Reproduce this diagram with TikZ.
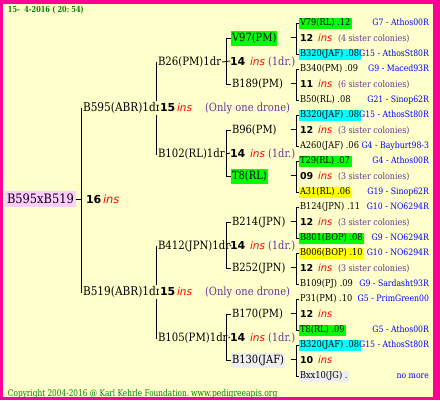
\documentclass[tikz,border=0pt]{standalone}
\usepackage{fontspec}
\setmainfont{DejaVu Serif}
\newfontfamily\sansf{DejaVu Sans}
\newfontfamily\narrowserif[FakeStretch=0.8]{DejaVu Serif}
\newfontfamily\lserif[FakeStretch=0.88]{DejaVu Serif}
\usetikzlibrary{backgrounds}
\definecolor{bg}{RGB}{255,255,204}
\definecolor{framec}{RGB}{255,0,150}
\definecolor{hlgreen}{RGB}{0,255,0}
\definecolor{hlcyan}{RGB}{0,255,255}
\definecolor{hlyellow}{RGB}{255,255,0}
\definecolor{hlgrey}{RGB}{238,238,238}
\definecolor{hlpink}{RGB}{255,204,255}
\definecolor{gblue}{RGB}{0,0,255}
\definecolor{purp}{RGB}{102,51,153}
\definecolor{insred}{RGB}{255,0,0}
\definecolor{cgreen}{RGB}{0,128,0}
\newcommand\myfs[1]{\fontsize{#1}{#1}\selectfont}
\tikzset{
  every node/.style={inner sep=0pt, outer sep=0pt, anchor=base west},
  conn/.style={draw=black, line width=0.8pt},
  lthree/.style={font=\lserif\myfs{9.4}, inner xsep=1.5pt, inner ysep=1pt, text height=7pt, text depth=2pt},
  gthree/.style={anchor=base east, text=gblue, font=\lserif\myfs{8.8}},
  nthree/.style={font=\sansf\bfseries\myfs{9.5}},
  ithree/.style={text=insred, font=\sansf\itshape\myfs{10}},
  sthree/.style={text=purp, font=\lserif\myfs{9}},
  ltwoc/.style={font=\lserif\myfs{11.3}, inner xsep=1pt, inner ysep=1.5pt, text height=9pt, text depth=3pt},
  ltwop/.style={font=\lserif\myfs{11.5}, inner xsep=1pt, inner ysep=1pt, text height=9pt, text depth=3pt},
  lone/.style={font=\lserif\myfs{12}, fill=bg, inner xsep=1pt, inner ysep=1pt, text height=9pt, text depth=3pt},
  numbig/.style={font=\sansf\bfseries\myfs{11}},
  insbig/.style={text=insred, font=\sansf\itshape\myfs{10.5}},
  scomment/.style={text=purp, font=\lserif\myfs{11.3}},
  rootst/.style={font=\lserif\myfs{13}, fill=hlpink, inner xsep=2pt, inner ysep=1pt, text height=11pt, text depth=3pt},
  greentext/.style={text=cgreen, font=\narrowserif\myfs{9.2}}
}
\begin{document}
\begin{tikzpicture}[x=1pt,y=-1pt]
\useasboundingbox (0,0) rectangle (440,400);

\coordinate (v0) at (81,0);
\coordinate (v1) at (156,0);
\coordinate (v2) at (226,0);
\coordinate (v3) at (296,0);

% date and copyright
\node[greentext, font=\narrowserif\bfseries\myfs{8.2}] (date) at (8,12) {15-~~4-2016 (~20:~54)};
\node[greentext] (copy) at (8,396) {Copyright 2004-2016 @ Karl Kehrle Foundation.};
\node[greentext, font=\narrowserif\myfs{9.5}] (web) at (191,396) {www.pedigreeapis.org};

% root
\node[rootst] (r) at (5,203) {B595xB519};
\node[numbig] (rn) at (86,203) {16};
\node[insbig, font=\sansf\itshape\myfs{11.5}] (ri) at (103,203) {ins};

% level 1
\node[lone] (d1) at (82,111) {B595(ABR)1dr};
\node[numbig, fill=bg, inner xsep=1pt] (d1n) at (159,111) {15};
\node[insbig] (d1i) at (177,111) {ins};
\node[scomment] (d1s) at (205,111) {(Only one drone)};
\node[lone] (d2) at (82,295) {B519(ABR)1dr};
\node[numbig, fill=bg, inner xsep=1pt] (d2n) at (159,295) {15};
\node[insbig] (d2i) at (177,295) {ins};
\node[scomment] (d2s) at (205,295) {(Only one drone)};

% level 2 parents
\node[ltwop] (c1) at (157,65) {B26(PM)1dr};
\node[numbig] (c1n) at (230,65) {14};
\node[insbig] (c1i) at (250,65) {ins};
\node[scomment] (c1s) at (268,65) {(1dr.)};
\node[ltwop] (c2) at (157,157) {B102(RL)1dr};
\node[numbig] (c2n) at (230,157) {14};
\node[insbig] (c2i) at (250,157) {ins};
\node[scomment] (c2s) at (268,157) {(1dr.)};
\node[ltwop] (c3) at (157,249) {B412(JPN)1dr};
\node[numbig] (c3n) at (230,249) {14};
\node[insbig] (c3i) at (250,249) {ins};
\node[scomment] (c3s) at (268,249) {(1dr.)};
\node[ltwop] (c4) at (157,341) {B105(PM)1dr};
\node[numbig] (c4n) at (230,341) {14};
\node[insbig] (c4i) at (250,341) {ins};
\node[scomment] (c4s) at (268,341) {(1dr.)};

% level 2 children
\node[ltwoc, fill=hlgreen] (b1) at (231,41.8) {V97(PM)};
\node[ltwoc] (b2) at (231,87.8) {B189(PM)};
\node[ltwoc] (b3) at (231,133.8) {B96(PM)};
\node[ltwoc, fill=hlgreen] (b4) at (231,179.8) {T8(RL)};
\node[ltwoc] (b5) at (231,225.8) {B214(JPN)};
\node[ltwoc] (b6) at (231,271.8) {B252(JPN)};
\node[ltwoc] (b7) at (231,317.8) {B170(PM)};
\node[ltwoc, fill=hlgrey] (b8) at (231,363.8) {B130(JAF)};

% level 3 groups
% group 1
\node[lthree, fill=hlgreen] (a1t) at (298.5,25.9) {V79(RL) .12};
\node[gthree] (a1tg) at (429,25.9) {G7 - Athos00R};
\node[nthree] (a1n) at (300,41.2) {12};
\node[ithree] (a1i) at (318,41.2) {ins};
\node[sthree] (a1s) at (338,41.2) {(4 sister colonies)};
\node[lthree, fill=hlcyan] (a1b) at (298.5,56.6) {B320(JAF) .08};
\node[gthree] (a1bg) at (429,56.6) {G15 - AthosSt80R};
% group 2
\node[lthree] (a2t) at (298.5,71.9) {B340(PM) .09};
\node[gthree] (a2tg) at (429,71.9) {G9 - Maced93R};
\node[nthree] (a2n) at (300,87.2) {11};
\node[ithree] (a2i) at (318,87.2) {ins};
\node[sthree] (a2s) at (338,87.2) {(6 sister colonies)};
\node[lthree] (a2b) at (298.5,102.6) {B50(RL) .08};
\node[gthree] (a2bg) at (429,102.6) {G21 - Sinop62R};
% group 3
\node[lthree, fill=hlcyan] (a3t) at (298.5,117.9) {B320(JAF) .08};
\node[gthree] (a3tg) at (429,117.9) {G15 - AthosSt80R};
\node[nthree] (a3n) at (300,133.2) {12};
\node[ithree] (a3i) at (318,133.2) {ins};
\node[sthree] (a3s) at (338,133.2) {(3 sister colonies)};
\node[lthree] (a3b) at (298.5,148.5) {A260(JAF) .06};
\node[gthree] (a3bg) at (429,148.5) {G4 - Bayburt98-3};
% group 4
\node[lthree, fill=hlgreen] (a4t) at (298.5,163.9) {T29(RL) .07};
\node[gthree] (a4tg) at (429,163.9) {G4 - Athos00R};
\node[nthree] (a4n) at (300,179.2) {09};
\node[ithree] (a4i) at (318,179.2) {ins};
\node[sthree] (a4s) at (338,179.2) {(3 sister colonies)};
\node[lthree, fill=hlyellow] (a4b) at (298.5,194.5) {A31(RL) .06};
\node[gthree] (a4bg) at (429,194.5) {G19 - Sinop62R};
% group 5
\node[lthree] (a5t) at (298.5,209.9) {B124(JPN) .11};
\node[gthree] (a5tg) at (429,209.9) {G10 - NO6294R};
\node[nthree] (a5n) at (300,225.2) {12};
\node[ithree] (a5i) at (318,225.2) {ins};
\node[sthree] (a5s) at (338,225.2) {(3 sister colonies)};
\node[lthree, fill=hlgreen] (a5b) at (298.5,240.5) {B801(BOP) .08};
\node[gthree] (a5bg) at (429,240.5) {G9 - NO6294R};
% group 6
\node[lthree, fill=hlyellow] (a6t) at (298.5,255.9) {B006(BOP) .10};
\node[gthree] (a6tg) at (429,255.9) {G10 - NO6294R};
\node[nthree] (a6n) at (300,271.2) {12};
\node[ithree] (a6i) at (318,271.2) {ins};
\node[sthree] (a6s) at (338,271.2) {(3 sister colonies)};
\node[lthree] (a6b) at (298.5,286.5) {B109(PJ) .09};
\node[gthree] (a6bg) at (429,286.5) {G9 - Sardasht93R};
% group 7
\node[lthree] (a7t) at (298.5,301.9) {P31(PM) .10};
\node[gthree] (a7tg) at (429,301.9) {G5 - PrimGreen00};
\node[nthree] (a7n) at (300,317.2) {12};
\node[ithree] (a7i) at (318,317.2) {ins};
\node[lthree, fill=hlgreen] (a7b) at (298.5,332.5) {T8(RL) .09};
\node[gthree] (a7bg) at (429,332.5) {G5 - Athos00R};
% group 8
\node[lthree, fill=hlcyan] (a8t) at (298.5,347.9) {B320(JAF) .08};
\node[gthree] (a8tg) at (429,347.9) {G15 - AthosSt80R};
\node[nthree] (a8n) at (300,363.2) {10};
\node[ithree] (a8i) at (318,363.2) {ins};
\node[lthree, fill=hlgrey] (a8b) at (298.5,378.5) {Bxx10(JG) .};
\node[gthree] (a8bg) at (429,378.5) {no more};

\begin{scope}[on background layer]
  \fill[framec] (0,0) rectangle (440,400);
  \fill[bg] (3,4) rectangle (433,397);
  % root
  \draw[conn] (r.east) -- (r.east -| v0);
  \draw[conn] (d1.west) -- (d1.west -| v0) |- (d2.west);
  % level 1
  \draw[conn] (c1.west) -- (c1.west -| v1) |- (c2.west);
  \draw[conn] (c3.west) -- (c3.west -| v1) |- (c4.west);
  % level 2
  \foreach \p/\q/\n in {b1/b2/c1, b3/b4/c2, b5/b6/c3, b7/b8/c4}{
    \draw[conn] (\p.west) -- (\p.west -| v2) |- (\q.west);
    \draw[conn] (\n.east) -- (\n n.west);
  }
  % level 3
  \foreach \g in {a1,a2,a3,a4,a5,a6,a7,a8}{
    \draw[conn] (\g t.west) -- (\g t.west -| v3) |- (\g b.west);
    \draw[conn] ([xshift=-9pt]\g n.west) -- ([xshift=-4pt]\g n.west);
  }
\end{scope}
\end{tikzpicture}
\end{document}
